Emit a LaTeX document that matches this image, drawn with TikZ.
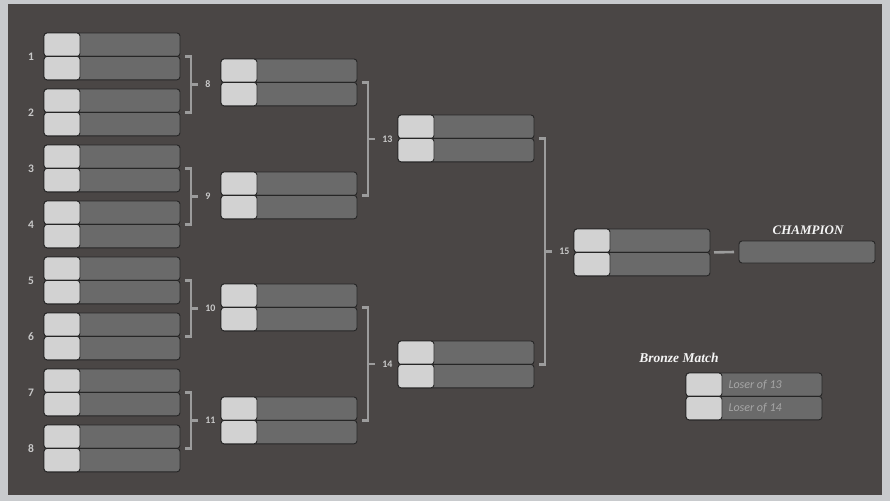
\documentclass[tikz,border=0pt]{standalone}
\usepackage{fontspec}
\setmainfont{Carlito}
\newfontfamily\titlefont{Liberation Serif}
\usetikzlibrary{calc}

\definecolor{board}{HTML}{4A4645}
\definecolor{frame}{HTML}{C8CACD}
\definecolor{seedfill}{HTML}{D2D2D2}
\definecolor{namefill}{HTML}{6A6A6A}
\definecolor{linkgray}{HTML}{9C9C9C}
\definecolor{numgray}{HTML}{C8C8C8}

\tikzset{
  namecell/.style={draw=black!85, fill=namefill, line width=0.9pt, rounded corners=3pt,
    minimum width=136pt, minimum height=23.4pt, inner sep=0pt, outer sep=0pt, anchor=north west},
  seedcell/.style={namecell, fill=seedfill, minimum width=36pt},
  bracket/.style={linkgray, line width=2.6pt},
  seednum/.style={numgray, font=\bfseries\fontsize{11.5}{11.5}\selectfont},
  gamenum/.style={numgray, font=\bfseries\fontsize{10}{10}\selectfont, anchor=west, inner sep=0pt},
}

% one game: two rows, seed cell on the left of each
\newcommand{\game}[3]{%
  \node[namecell] (#1top) at (#2,#3) {};
  \node[seedcell] (#1topseed) at (#1top.north west) {};
  \node[namecell] (#1bot) at (#1top.south west) {};
  \node[seedcell] (#1botseed) at (#1bot.north west) {};
  \coordinate (#1) at (#1top.south east);
}

% bracket joining two games, with the number of the next game
\newcommand{\joinpair}[4]{%
  \draw[bracket] ([xshift=5pt]#1) -- ++(6,0) |- ([xshift=5pt]#2);
  \draw[bracket] ($(#1)!0.5!(#2)+(11,0)$) -- ++(7,0)
    node[gamenum, xshift=6pt] (#3) {#4};
}

\begin{document}
\begin{tikzpicture}[x=1pt,y=-1pt]
    \useasboundingbox (0,0) rectangle (890,501);

    % Board
    \fill[frame] (0,0) rectangle (890,501);
    \fill[board] (8,4) rectangle (882,495);

    % Round 1
    \game{g1}{44}{33}
    \game{g2}{44}{89}
    \game{g3}{44}{145}
    \game{g4}{44}{201}
    \game{g5}{44}{257}
    \game{g6}{44}{313}
    \game{g7}{44}{369}
    \game{g8}{44}{425}

    % Seed numbers
    \node[seednum] (s1) at (31,57) {1};
    \node[seednum] (s2) at (31,113) {2};
    \node[seednum] (s3) at (31,169) {3};
    \node[seednum] (s4) at (31,225) {4};
    \node[seednum] (s5) at (31,281) {5};
    \node[seednum] (s6) at (31,337) {6};
    \node[seednum] (s7) at (31,393) {7};
    \node[seednum] (s8) at (31,449) {8};

    % Round 2
    \game{g9}{221}{59}
    \game{g10}{221}{172}
    \game{g11}{221}{284}
    \game{g12}{221}{397}

    % Semifinals
    \game{g13}{398}{115}
    \game{g14}{398}{341}

    % Final
    \game{g15}{574}{229}

    % Brackets
    \joinpair{g1}{g2}{n8}{8}
    \joinpair{g3}{g4}{n9}{9}
    \joinpair{g5}{g6}{n10}{10}
    \joinpair{g7}{g8}{n11}{11}
    \joinpair{g9}{g10}{n13}{13}
    \joinpair{g11}{g12}{n14}{14}
    \joinpair{g13}{g14}{n15}{15}

    % Champion
    \node[namecell, minimum height=22pt] (champ) at (739,241) {};
    \node[white!92!gray, font=\titlefont\bfseries\itshape\fontsize{13}{13}\selectfont]
        (champtitle) at (808,230) {CHAMPION};
    \draw[bracket] ([xshift=4pt]g15) -- ([xshift=-5pt]champ.west);

    % Bronze match
    \node[white!92!gray, font=\titlefont\bfseries\itshape\fontsize{13.5}{13.5}\selectfont]
        (bronzetitle) at (679,358) {Bronze Match};
    \game{g16}{686}{373}
    \node[gray!70!white, font=\itshape\fontsize{12}{12}\selectfont, anchor=west]
        (loser13) at ([xshift=3pt]g16topseed.east) {Loser of 13};
    \node[gray!70!white, font=\itshape\fontsize{12}{12}\selectfont, anchor=west]
        (loser14) at ([xshift=3pt]g16botseed.east) {Loser of 14};
\end{tikzpicture}
\end{document}
